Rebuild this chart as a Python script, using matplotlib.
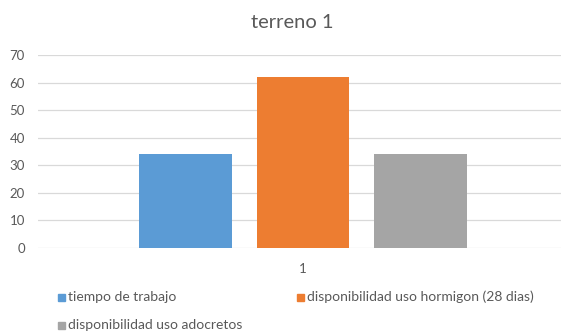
import matplotlib
matplotlib.use("Agg")
import matplotlib.pyplot as plt
from matplotlib.patches import Rectangle

plt.rcParams['font.family'] = ['Lato', 'DejaVu Sans']

title = "terreno 1"
category = "1"
series = ["tiempo de trabajo", "disponibilidad uso hormigon (28 dias)", "disponibilidad uso adocretos"]
values = [34, 62, 34]
colors = ["#5B9BD5", "#ED7D31", "#A5A5A5"]
yticks = [0, 10, 20, 30, 40, 50, 60, 70]

W, H = 561, 333
fig = plt.figure(figsize=(W/100, H/100), dpi=100)
ax = fig.add_axes([38/W, 85/H, 523/W, 193/H])

offsets = [-1, 0, 1]
for off, v, c, s in zip(offsets, values, colors, series):
    ax.bar(off, v, width=0.79, color=c, label=s, zorder=3)

ax.set_xlim(-2.255, 2.196)
ax.set_ylim(0, 70)
ax.set_yticks(yticks)
ax.set_xticks([0])
ax.set_xticklabels([category])
ax.grid(axis='y', color='#d9d9d9', linewidth=0.9, zorder=0)
for sp in ax.spines.values():
    sp.set_visible(False)
ax.tick_params(axis='both', length=0, colors='#595959', labelsize=9.5)
ax.tick_params(axis='y', pad=9.4)
ax.tick_params(axis='x', pad=11)

fig.text(292/W, 1 - 22/H, title, ha='center', va='center', fontsize=14.5, color='#595959')

# legend entries laid out row-wise as in the reference
legend_pos = [(61.5, 297), (300.5, 297), (61.5, 325)]
for (px, py), c, s in zip(legend_pos, colors, series):
    sq = 7
    fig.patches.append(Rectangle(((px - sq/2)/W, 1 - (py + sq/2)/H), sq/W, sq/H,
                                 transform=fig.transFigure, color=c))
    fig.text((px + 6.5)/W, 1 - py/H, s, ha='left', va='center', fontsize=10, color='#595959')

fig.savefig("out.png", dpi=100)
